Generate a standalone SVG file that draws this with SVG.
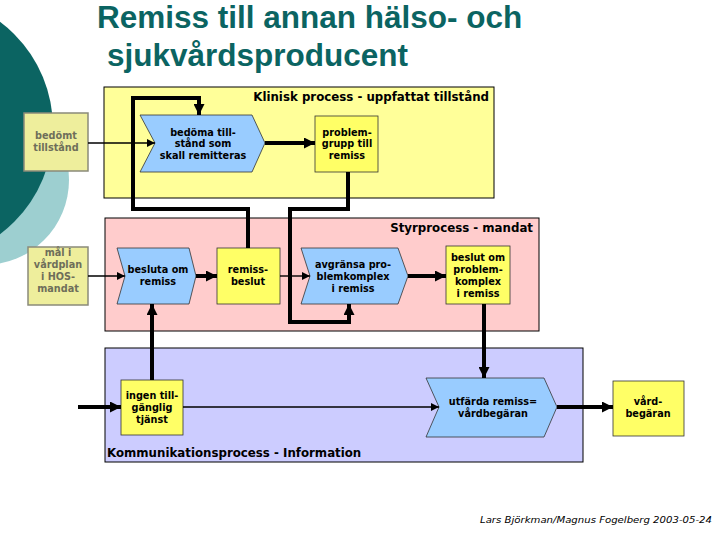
<svg xmlns="http://www.w3.org/2000/svg" width="720" height="540" viewBox="0 0 720 540">
<defs>
<style>
.title{font-family:"Liberation Sans",Arial,sans-serif;font-weight:bold;font-size:31.5px;fill:#0b6462}
.ptitle{font-family:"DejaVu Sans",Verdana,sans-serif;font-weight:bold;font-size:11.8px;fill:#000}
.t{font-family:"DejaVu Sans",Verdana,sans-serif;font-weight:bold;font-size:9.7px;fill:#000;text-anchor:middle}
.tg{font-family:"DejaVu Sans",Verdana,sans-serif;font-weight:bold;font-size:9.7px;fill:#6e6e5a;text-anchor:middle}
.chev{fill:#99ccff;stroke:#333;stroke-width:0.8}
.yb{fill:#ffff66;stroke:#333;stroke-width:0.8}
.gb{fill:#eeee9c;stroke:#8a8a7a;stroke-width:1.5}
.thick{fill:none;stroke:#000;stroke-width:4}
.thin{fill:none;stroke:#000;stroke-width:1.4}
.credit{font-family:"DejaVu Sans",Verdana,sans-serif;font-style:italic;font-size:9.5px;fill:#000}
</style>
<marker id="ahT" markerUnits="userSpaceOnUse" markerWidth="11" markerHeight="11" refX="10" refY="5" orient="auto" viewBox="0 0 10 10"><path d="M0,0 L10,5 L0,10 z" fill="#000"/></marker>
<marker id="aht" markerUnits="userSpaceOnUse" markerWidth="9" markerHeight="8" refX="10" refY="5" orient="auto" viewBox="0 0 10 10"><path d="M0,0 L10,5 L0,10 z" fill="#000"/></marker>
</defs>
<rect width="720" height="540" fill="#fff"/>
<g id="decor">
<circle cx="-16" cy="180" r="85" fill="#9dcfd0"/>
<circle cx="-80" cy="128" r="133" fill="#0b6462"/>
</g>
<g id="title">
<text class="title" x="97" y="28">Remiss till annan hälso- och</text>
<text class="title" x="107" y="66">sjukvårdsproducent</text>
</g>
<g id="panel-klinisk">
<rect x="104" y="87" width="390" height="111" fill="#ffff99" stroke="#000" stroke-width="1"/>
<text class="ptitle" x="489" y="101" text-anchor="end">Klinisk process - uppfattat tillstånd</text>
</g>
<g id="panel-styr">
<rect x="105" y="218" width="434" height="113" fill="#ffcccc" stroke="#000" stroke-width="1"/>
<text class="ptitle" x="533" y="232" text-anchor="end">Styrprocess - mandat</text>
</g>
<g id="panel-komm">
<rect x="105" y="348" width="478" height="114" fill="#ccccff" stroke="#000" stroke-width="1"/>
<text class="ptitle" x="107" y="457">Kommunikationsprocess - Information</text>
</g>
<g id="bedomt">
<rect class="gb" x="24" y="113" width="64" height="58"/>
<text class="tg" x="56" y="139">bedömt</text>
<text class="tg" x="56" y="151">tillstånd</text>
</g>
<g id="bedoma">
<path class="chev" d="M140,115 L252,115 L265,143 L252,172 L140,172 L155,143 Z"/>
<text class="t" x="203" y="136">bedöma till-</text>
<text class="t" x="203" y="147">stånd som</text>
<text class="t" x="203" y="159">skall remitteras</text>
</g>
<g id="problemgrupp">
<rect class="yb" x="315" y="116" width="63" height="56"/>
<text class="t" x="347" y="136">problem-</text>
<text class="t" x="347" y="147">grupp till</text>
<text class="t" x="347" y="159">remiss</text>
</g>
<g id="mal">
<rect class="gb" x="28" y="247" width="60" height="58" stroke-width="1"/>
<text class="tg" x="58" y="256">mål i</text>
<text class="tg" x="58" y="268">vårdplan</text>
<text class="tg" x="58" y="280">i HOS-</text>
<text class="tg" x="58" y="292">mandat</text>
</g>
<g id="besluta">
<path class="chev" d="M117,248 L189,248 L196,276 L189,304 L117,304 L125,276 Z"/>
<text class="t" x="158" y="273">besluta om</text>
<text class="t" x="158" y="285">remiss</text>
</g>
<g id="remissbeslut">
<rect class="yb" x="217" y="248" width="63" height="56"/>
<text class="t" x="248" y="273">remiss-</text>
<text class="t" x="248" y="285">beslut</text>
</g>
<g id="avgransa">
<path class="chev" d="M301,248 L398,248 L408,276 L398,304 L301,304 L310,276 Z"/>
<text class="t" x="353" y="268">avgränsa pro-</text>
<text class="t" x="353" y="280">blemkomplex</text>
<text class="t" x="353" y="292">i remiss</text>
</g>
<g id="beslutom">
<rect class="yb" x="446" y="246" width="64" height="58"/>
<text class="t" x="478" y="261">beslut om</text>
<text class="t" x="478" y="273">problem-</text>
<text class="t" x="478" y="285">komplex</text>
<text class="t" x="478" y="297">i remiss</text>
</g>
<g id="ingen">
<rect class="yb" x="121" y="380" width="62" height="55"/>
<text class="t" x="152" y="399">ingen till-</text>
<text class="t" x="152" y="411">gänglig</text>
<text class="t" x="152" y="423">tjänst</text>
</g>
<g id="utfarda">
<path class="chev" d="M426,378 L544,378 L557,407 L544,437 L426,437 L439,407 Z"/>
<text class="t" x="493" y="405">utfärda remiss=</text>
<text class="t" x="493" y="417">vårdbegäran</text>
</g>
<g id="vardbegaran">
<rect class="yb" x="613" y="381" width="71" height="55"/>
<text class="t" x="648" y="405">vård-</text>
<text class="t" x="648" y="417">begäran</text>
</g>
<g id="connectors">
<path class="thin" d="M88,143 H155" marker-end="url(#aht)"/>
<path class="thick" d="M265,143 H315" marker-end="url(#ahT)"/>
<path class="thick" d="M348,172 V209 H290 V322 H349 V304" marker-end="url(#ahT)"/>
<path class="thick" d="M248,248 V209 H133 V98 H199 V115" marker-end="url(#ahT)"/>
<path class="thin" d="M88,276 H125" marker-end="url(#aht)"/>
<path class="thick" d="M196,276 H217" marker-end="url(#ahT)"/>
<path class="thin" d="M280,276 H310" marker-end="url(#aht)"/>
<path class="thick" d="M408,276 H446" marker-end="url(#ahT)"/>
<path class="thick" d="M484,304 V378" marker-end="url(#ahT)"/>
<path class="thick" d="M152,380 V304" marker-end="url(#ahT)"/>
<path class="thick" d="M78,407 H121" marker-end="url(#ahT)"/>
<path class="thin" d="M183,407 H439" marker-end="url(#aht)"/>
<path class="thick" d="M557,407 H613" marker-end="url(#ahT)"/>
</g>
<text class="credit" x="480" y="523" textLength="232" lengthAdjust="spacingAndGlyphs">Lars Björkman/Magnus Fogelberg 2003-05-24</text>
</svg>
